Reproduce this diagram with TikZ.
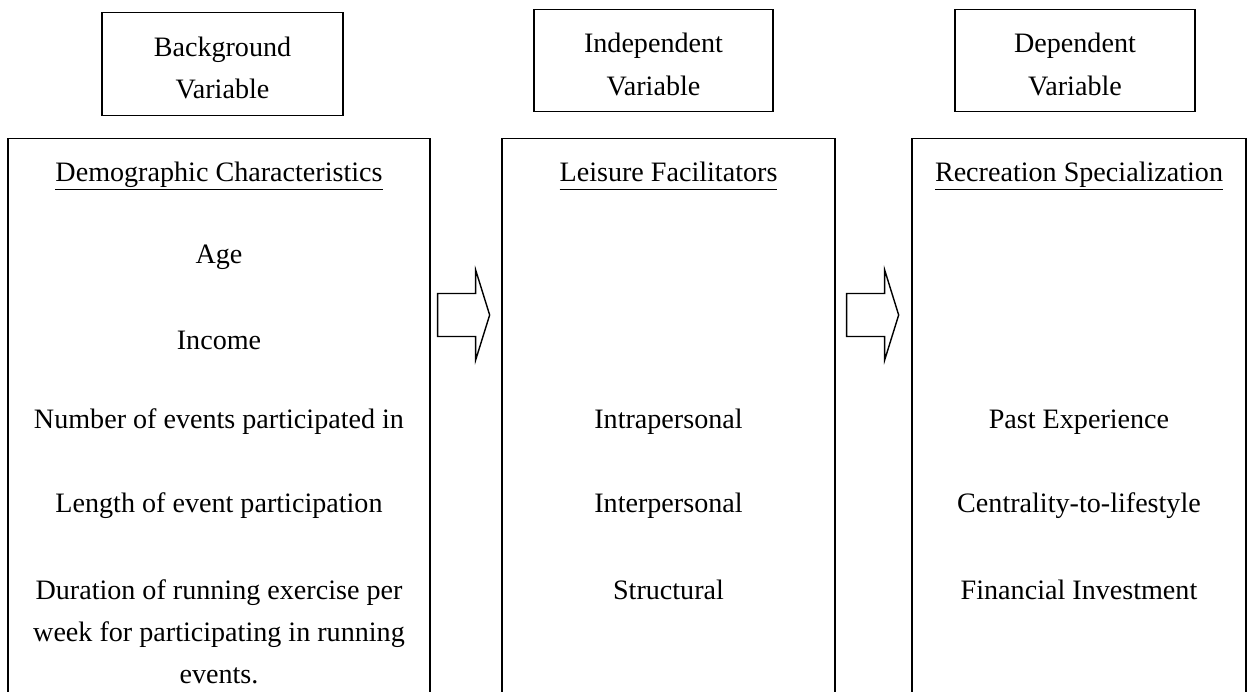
\documentclass[tikz,border=0pt]{standalone}
\usepackage{fontspec}
\setmainfont{Liberation Serif}
\usepackage{tikz}
\usetikzlibrary{positioning,calc}

\begin{document}
\begin{tikzpicture}[x=0.02cm,y=-0.02cm,line width=0.8pt,
  every node/.style={font=\fontsize{16}{24}\selectfont,inner sep=0pt},
  varbox/.style={draw,align=center,minimum height=2.05cm,text height=1.39cm},
  colbox/.style={draw,minimum height=12.4cm,anchor=north},
  colhead/.style={anchor=base},
  item/.style={align=center}]
  \useasboundingbox (0,0) rectangle (1248,691);
  % variable labels
  \node[varbox,minimum width=4.82cm] (bgvar) at (222.5,64) {Background\\Variable};
  \node[varbox,minimum width=4.78cm] (indvar) at (653.5,60.5) {Independent\\Variable};
  \node[varbox,minimum width=4.80cm] (depvar) at (1075,60.5) {Dependent\\Variable};
  % columns, open at the bottom
  \node[colbox,minimum width=8.44cm] (demo) at (219,138) {};
  \node[colbox,minimum width=6.66cm] (fac) at (668.5,138) {};
  \node[colbox,minimum width=6.68cm] (spec) at (1079,138) {};
  % background column
  \node[colhead] (demohd) at (219,181) {\underline{\vphantom{g}Demographic Characteristics}};
  \node[item] (age) at (219,257) {Age};
  \node[item] (income) at (219,340) {Income};
  \node[item] (events) at (219,422) {Number of events participated in};
  \node[item] (length) at (219,506) {Length of event participation};
  \node[item] (dur) at (219,632) {Duration of running exercise per\\week for participating in running\\events.};
  % independent column
  \node[colhead] (fachd) at (668.5,181) {\underline{\vphantom{g}Leisure Facilitators}};
  \node[item] (intra) at (668.5,422) {Intrapersonal};
  \node[item] (inter) at (668.5,506) {Interpersonal};
  \node[item] (struct) at (668.5,590) {Structural};
  % dependent column
  \node[colhead] (spechd) at (1079,181) {\underline{\vphantom{g}Recreation Specialization}};
  \node[item] (past) at (1079,422) {Past Experience};
  \node[item] (central) at (1079,506) {Centrality-to-lifestyle};
  \node[item] (invest) at (1079,590) {Financial Investment};
  % block arrows between the columns
  \coordinate (arrA) at ($(demo.north east)+(7,177)$);
  \coordinate (arrB) at ($(fac.north east)+(11,177)$);
  \foreach \a in {arrA,arrB}
    \draw (\a) ++(0,-21.5) -- ++(38,0) -- ++(0,-23.5) -- ++(14,45)
      -- ++(-14,45) -- ++(0,-23.5) -- ++(-38,0) -- cycle;
\end{tikzpicture}
\end{document}
